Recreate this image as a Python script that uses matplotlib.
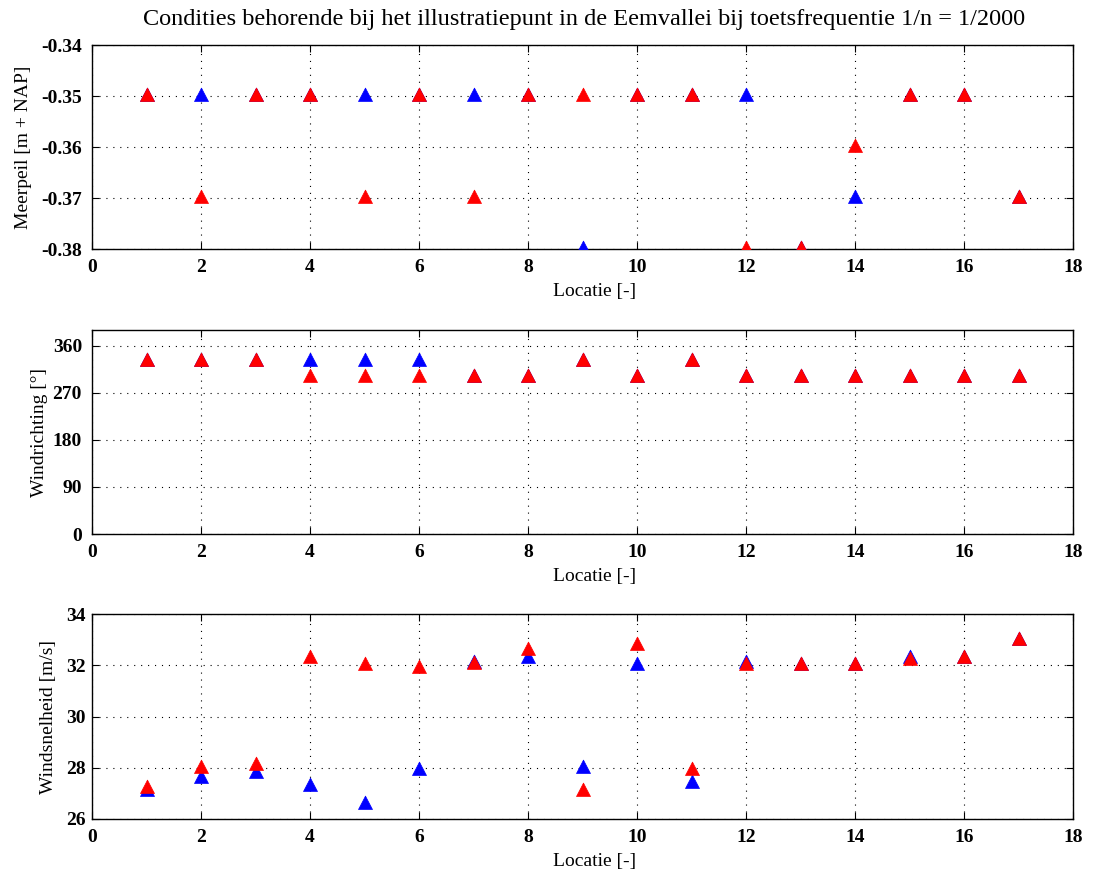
import matplotlib
matplotlib.use("Agg")
import matplotlib.pyplot as plt
from matplotlib.path import Path
import numpy as np

plt.rcParams['font.family'] = ['Liberation Serif', 'DejaVu Serif']
plt.rcParams['lines.scale_dashes'] = False

locaties = np.arange(1, 18)

# Meerpeil [m + NAP]
meerpeil_blauw = [-0.35, -0.35, -0.35, -0.35, -0.35, -0.35, -0.35, -0.35, -0.38,
                  -0.35, -0.35, -0.35, -0.38, -0.37, -0.35, -0.35, -0.37]
meerpeil_rood = [-0.35, -0.37, -0.35, -0.35, -0.37, -0.35, -0.37, -0.35, -0.35,
                 -0.35, -0.35, -0.38, -0.38, -0.36, -0.35, -0.35, -0.37]

# Windrichting [graden]
richting_blauw = [330, 330, 330, 330, 330, 330, 300, 300, 330,
                  300, 330, 300, 300, 300, 300, 300, 300]
richting_rood = [330, 330, 330, 300, 300, 300, 300, 300, 330,
                 300, 330, 300, 300, 300, 300, 300, 300]

# Windsnelheid [m/s]
snelheid_blauw = [27.1, 27.6, 27.8, 27.3, 26.6, 27.9, 32.1, 32.3, 28.0,
                  32.0, 27.4, 32.1, 32.0, 32.0, 32.3, 32.3, 33.0]
snelheid_rood = [27.2, 28.0, 28.1, 32.3, 32.0, 31.9, 32.05, 32.6, 27.1,
                 32.8, 27.9, 32.0, 32.0, 32.0, 32.2, 32.3, 33.0]

titel = "Condities behorende bij het illustratiepunt in de Eemvallei bij toetsfrequentie 1/n = 1/2000"

# triangle centred on its centroid
driehoek = Path([(0, 8.4), (-7, -5), (7, -5), (0, 8.4)],
                [Path.MOVETO, Path.LINETO, Path.LINETO, Path.CLOSEPOLY])

panelen = [
    (meerpeil_blauw, meerpeil_rood, "Meerpeil [m + NAP]", (-0.38, -0.34),
     [-0.38, -0.37, -0.36, -0.35, -0.34], ["-0.38", "-0.37", "-0.36", "-0.35", "-0.34"]),
    (richting_blauw, richting_rood, "Windrichting [°]", (0, 390),
     [0, 90, 180, 270, 360], ["0", "90", "180", "270", "360"]),
    (snelheid_blauw, snelheid_rood, "Windsnelheid [m/s]", (26, 34),
     [26, 28, 30, 32, 34], ["26", "28", "30", "32", "34"]),
]

fig = plt.figure(figsize=(10.95, 8.73), dpi=100)
posities = [
    [0.0840, 0.7144, 0.8963, 0.2337],
    [0.0840, 0.3883, 0.8963, 0.2337],
    [0.0840, 0.0619, 0.8963, 0.2345],
]
ytick_pads = [7.5, 7.2, 4.3]
ylabel_x = [-0.0611, -0.0445, -0.0352]

xticks = [0, 2, 4, 6, 8, 10, 12, 14, 16, 18]

for pos, ypad, ylx, (blauw, rood, ylabel, ylim, yt, ytl) in zip(
        posities, ytick_pads, ylabel_x, panelen):
    ax = fig.add_axes(pos)
    ax.plot(locaties, blauw, linestyle='none', marker=driehoek, markersize=12.1,
            color='#0000ff', markeredgecolor='#0000ff', markeredgewidth=0.5,
            zorder=3)
    ax.plot(locaties, rood, linestyle='none', marker=driehoek, markersize=12.1,
            color='#ff0000', markeredgecolor='#ff0000', markeredgewidth=0.5,
            zorder=4)
    ax.set_xlim(0, 18)
    ax.set_ylim(*ylim)
    ax.set_xticks(xticks)
    ax.set_xticklabels([str(v) for v in xticks], fontsize=14, fontweight='bold')
    ax.set_yticks(yt)
    ax.set_yticklabels(ytl, fontsize=14, fontweight='bold')
    ax.grid(True, color='black', linestyle=(0, (0.8, 4.2)), linewidth=0.8)
    ax.tick_params(direction='in', top=True, right=True, length=5, width=0.8)
    ax.tick_params(axis='x', pad=7)
    ax.tick_params(axis='y', pad=ypad)
    for s in ax.spines.values():
        s.set_linewidth(1.0)
    ax.set_xlabel("Locatie [-]", fontsize=14)
    ax.xaxis.set_label_coords(0.5125, -0.165)
    ax.set_ylabel(ylabel, fontsize=14)
    ax.yaxis.set_label_coords(ylx, 0.5)

fig.text(0.5333, 0.978, titel, ha='center', va='center', fontsize=17.5)

fig.savefig("out.png", dpi=100)
